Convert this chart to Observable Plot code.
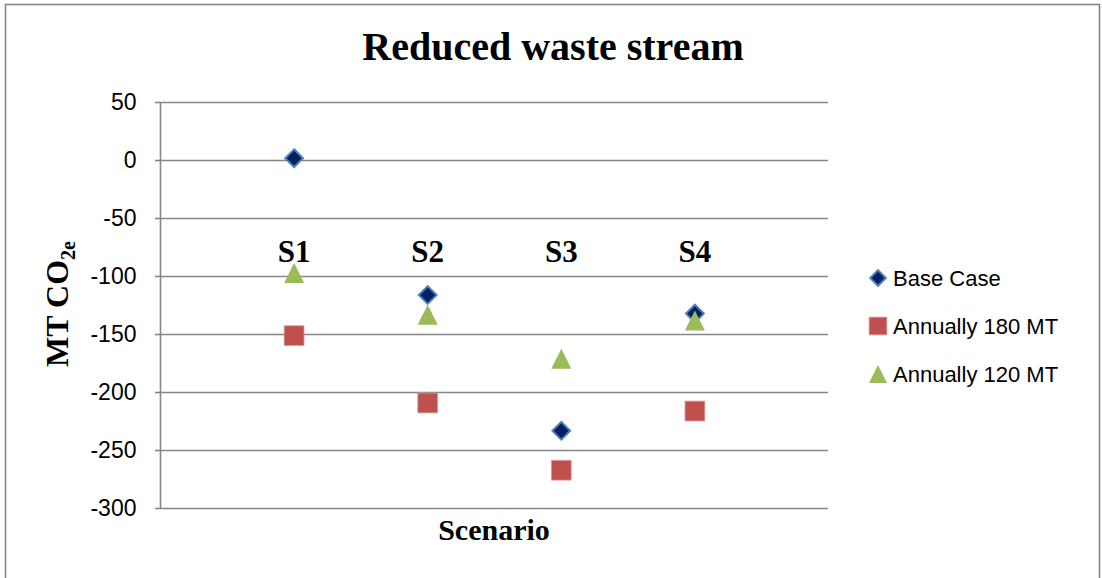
<!DOCTYPE html>
<html><head><meta charset="utf-8">
<script src="https://cdn.jsdelivr.net/npm/d3@7"></script>
<script src="https://cdn.jsdelivr.net/npm/@observablehq/plot@0.6"></script>
<style>
body{margin:0;background:#fff;}
#chart{position:relative;width:1102px;height:578px;overflow:hidden;}
</style></head><body><div id="chart"></div>
<script>
// ---- data ----
const scenarios = ["S1", "S2", "S3", "S4"];
const scenarioPos = [1, 2, 3, 4];
const baseCase = [2, -116, -233, -132];
const annual180 = [-151, -209, -267, -216];
const annual120 = [-97, -133, -171, -138];
const seriesNames = ["Base Case", "Annually 180 MT", "Annually 120 MT"];
const yTicks = [50, 0, -50, -100, -150, -200, -250, -300];
const scenarioLabelY = -79;

const colors = {
  base: "#002060", baseStroke: "#4a7ebb",
  a180: "#c0504d", a120: "#9bbb59", grid: "#868686"
};

// triangle whose bounding box is centred on the point (width = height)
const tri = {
  draw(ctx, size) {
    const r = Math.sqrt(size / Math.PI);
    ctx.moveTo(0, -r); ctx.lineTo(r, r); ctx.lineTo(-r, r); ctx.closePath();
  }
};

const mk = arr => arr.map((v, i) => ({x: scenarioPos[i], y: v, s: scenarios[i]}));
const baseRows = mk(baseCase), r180 = mk(annual180), r120 = mk(annual120);
const labelRows = scenarios.map((s, i) => ({x: scenarioPos[i], y: scenarioLabelY, s}));

const chart = Plot.plot({
  width: 1102, height: 578,
  marginLeft: 160, marginRight: 274, marginTop: 102, marginBottom: 70,
  x: {domain: [0, 5], axis: null},
  y: {domain: [-300, 50], axis: null},
  style: {fontFamily: "'Liberation Sans', Arial, sans-serif", color: "#000", background: "transparent"},
  marks: [
    Plot.gridY(yTicks, {stroke: colors.grid, strokeOpacity: 1, strokeWidth: 1.6}),
    Plot.ruleX([0], {stroke: colors.grid, strokeWidth: 1.6}),
    Plot.axisY({ticks: yTicks, tickSize: 5, tickPadding: 19, stroke: colors.grid, strokeWidth: 1.6,
      tickFormat: d => String(d), fontSize: 23, label: null}),
    Plot.text(labelRows, {x: "x", y: "y", text: "s", fontFamily: "'Liberation Serif', serif",
      fontWeight: "bold", fontSize: 31, fill: "#000"}),
    Plot.dot(baseRows, {x: "x", y: "y", symbol: "diamond2", r: 8, fill: colors.base,
      stroke: colors.baseStroke, strokeWidth: 2}),
    Plot.dot(r180, {x: "x", y: "y", symbol: "square", r: 11.2, fill: colors.a180,
      stroke: "#d9a09e", strokeWidth: 0.8}),
    Plot.dot(r120, {x: "x", y: "y", symbol: tri, r: 10, fill: colors.a120})
  ]
});

const svg = d3.select(chart);
// outer chart border
svg.insert("rect", ":first-child").attr("x", 5.5).attr("y", 4.5).attr("width", 1094).attr("height", 700)
  .attr("fill", "#fff").attr("stroke", colors.grid).attr("stroke-width", 1.6);

// title
svg.append("text").attr("x", 553).attr("y", 60).attr("text-anchor", "middle")
  .attr("font-family", "'Liberation Serif', serif").attr("font-weight", "bold").attr("font-size", 40)
  .text("Reduced waste stream");

// x axis title
svg.append("text").attr("x", 494).attr("y", 540).attr("text-anchor", "middle")
  .attr("font-family", "'Liberation Serif', serif").attr("font-weight", "bold").attr("font-size", 30)
  .text("Scenario");

// y axis title
const yl = svg.append("text").attr("transform", "translate(68,304) rotate(-90)").attr("text-anchor", "middle")
  .attr("font-family", "'Liberation Serif', serif").attr("font-weight", "bold").attr("font-size", 32);
yl.append("tspan").text("MT CO");
yl.append("tspan").attr("font-size", 20).attr("dy", 7).text("2e");

// legend
const legendRows = [
  {name: seriesNames[0], sym: d3.symbolDiamond2, r: 7, fill: colors.base, stroke: colors.baseStroke, sw: 2},
  {name: seriesNames[1], sym: d3.symbolSquare, r: 10, fill: colors.a180, stroke: "#d9a09e", sw: 0.8},
  {name: seriesNames[2], sym: tri, r: 9, fill: colors.a120, stroke: "none", sw: 0}
];
const legendY = [278, 326, 374];
legendRows.forEach((d, i) => {
  const g = svg.append("g").attr("transform", `translate(0,${legendY[i]})`);
  g.append("path").attr("transform", "translate(878,0)")
    .attr("d", d3.symbol(d.sym, Math.PI * d.r * d.r)())
    .attr("fill", d.fill).attr("stroke", d.stroke).attr("stroke-width", d.sw);
  g.append("text").attr("x", 893).attr("y", 8).attr("text-anchor", "start")
    .attr("font-family", "'Liberation Sans', Arial, sans-serif").attr("font-size", 22)
    .text(d.name);
});

document.getElementById("chart").appendChild(chart);
</script>
</body></html>
